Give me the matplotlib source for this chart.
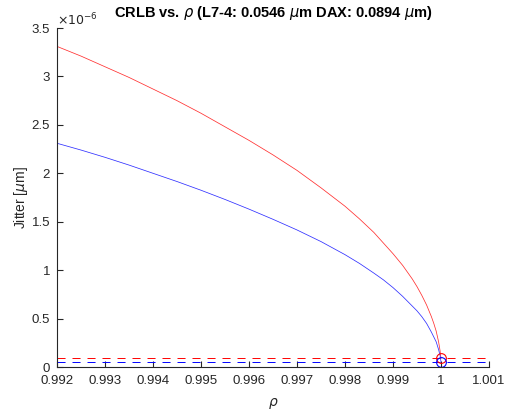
import matplotlib
matplotlib.use("Agg")
import matplotlib.pyplot as plt
from matplotlib.ticker import FuncFormatter

# correlation coefficient samples and CRLB jitter (units of 1e-6 um)
rho = [0.992, 0.9925, 0.993, 0.9935, 0.994, 0.9945, 0.995, 0.9955, 0.996,
       0.9965, 0.997, 0.9975, 0.998, 0.9983, 0.9986, 0.9988, 0.999, 0.9992,
       0.9994, 0.9995, 0.9996, 0.9997, 0.9998, 0.99985, 0.9999, 0.99995,
       0.99998, 1.0]
jitter_dax = [3.31, 3.21, 3.10, 2.99, 2.87, 2.75, 2.62, 2.48, 2.34,
              2.19, 2.03, 1.85, 1.66, 1.53, 1.39, 1.28, 1.17, 1.05,
              0.91, 0.83, 0.74, 0.64, 0.52, 0.45, 0.37, 0.26,
              0.17, 0.0894]
jitter_l74 = [2.31, 2.24, 2.165, 2.085, 2.00, 1.915, 1.825, 1.73, 1.63,
              1.525, 1.415, 1.295, 1.16, 1.07, 0.97, 0.90, 0.82, 0.73,
              0.63, 0.58, 0.52, 0.45, 0.36, 0.31, 0.26, 0.18,
              0.12, 0.0546]

# measured jitter levels (dashed lines) and rho at which they are reached
measured_dax = 0.0894
measured_l74 = 0.0546
rho_meas = 1.0

x_limits = [0.992, 1.001]
x_ticks = [0.992, 0.993, 0.994, 0.995, 0.996, 0.997, 0.998, 0.999, 1.0, 1.001]
y_ticks = [0, 0.5, 1, 1.5, 2, 2.5, 3, 3.5]

plt.rcParams['font.family'] = ['Liberation Sans', 'DejaVu Sans']
plt.rcParams['lines.scale_dashes'] = False

fig = plt.figure(figsize=(5.05, 4.12), dpi=100)
ax = fig.add_axes([0.1129, 0.1092, 0.8554, 0.8228])

ax.plot(rho, jitter_dax, color='#ff3030', lw=0.55)
ax.plot(rho, jitter_l74, color='#3030ff', lw=0.55)
ax.plot(x_limits, [measured_dax] * 2, color='#ff0000', lw=0.7, dashes=(5.8, 5.0))
ax.plot(x_limits, [measured_l74] * 2, color='#0000ff', lw=0.7, dashes=(5.8, 5.0))
ax.plot([rho_meas], [measured_dax], 'o', mfc='none', mec='#ff0000', ms=7, mew=0.8)
ax.plot([rho_meas], [measured_l74], 'o', mfc='none', mec='#0000ff', ms=7, mew=0.8)

ax.set_xlim(x_limits)
ax.set_ylim(0, 3.5)
ax.set_xticks(x_ticks)
ax.set_yticks(y_ticks)
fmt = FuncFormatter(lambda v, p: '%g' % round(v, 4))
ax.xaxis.set_major_formatter(fmt)
ax.yaxis.set_major_formatter(fmt)

for side in ['top', 'right']:
    ax.spines[side].set_visible(False)
for side in ['left', 'bottom']:
    ax.spines[side].set_color('#262626')
    ax.spines[side].set_linewidth(0.8)
ax.tick_params(direction='in', length=4, width=0.8, colors='#262626',
               labelsize=9.5)
ax.tick_params(axis='x', pad=6)
ax.tick_params(axis='y', pad=5)

ax.set_xlabel(r'$\rho$', fontsize=10, color='#262626', labelpad=6)
ax.set_ylabel(r'Jitter [$\mu$m]', fontsize=10, color='#262626', labelpad=1)
ax.set_title(r'CRLB vs. $\rho$ (L7-4: 0.0546 $\mu$m DAX: 0.0894 $\mu$m)',
             fontsize=10.5, fontweight='bold', pad=8)
ax.text(0.0, 1.0, r'$\times10^{-6}$', transform=ax.transAxes, fontsize=9,
        color='#262626', ha='left', va='bottom')

fig.savefig('out.png', dpi=100)
